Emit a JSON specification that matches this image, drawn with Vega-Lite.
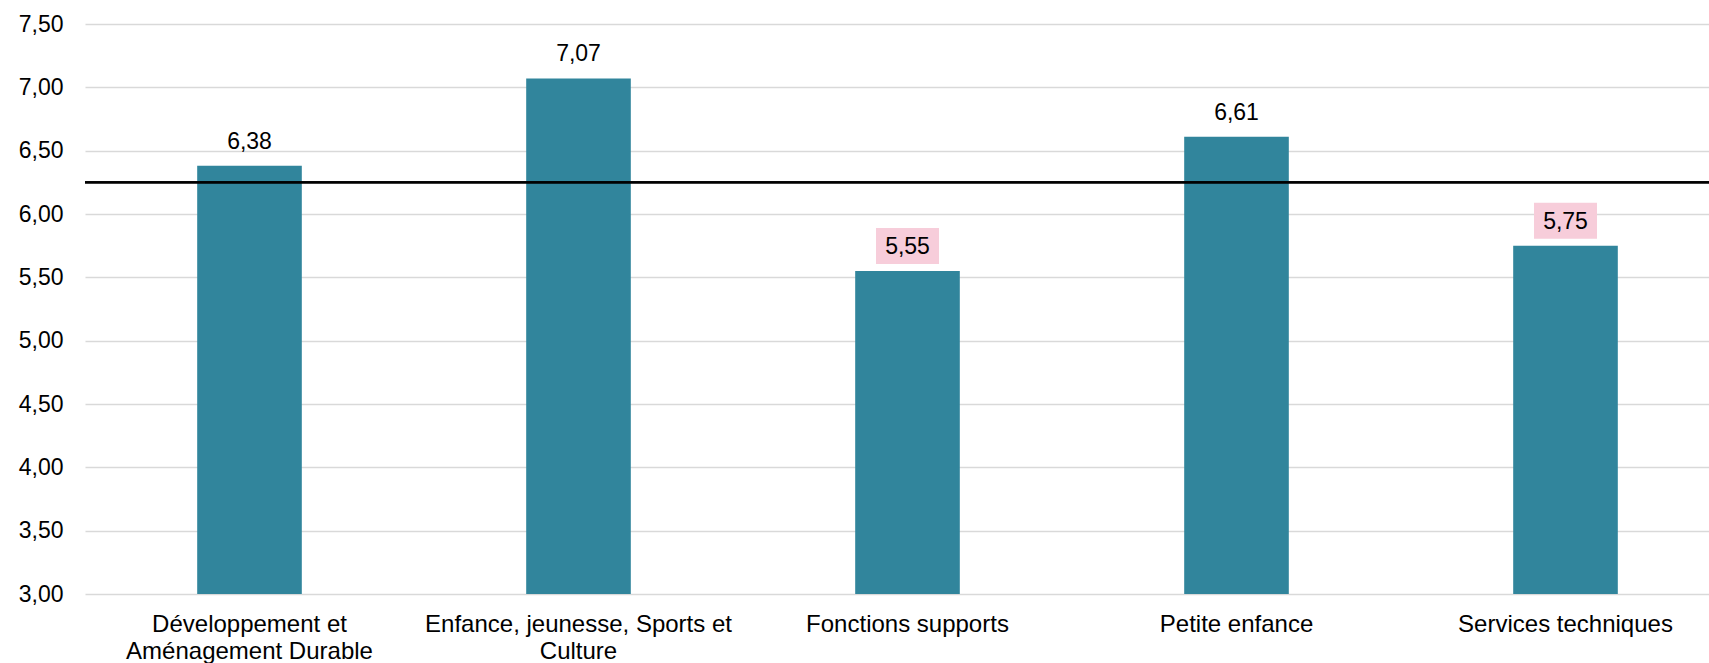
{
  "$schema": "https://vega.github.io/schema/vega-lite/v6.json",
  "autosize": {"type": "none"},
  "width": 1645,
  "height": 570,
  "padding": {"left": 85, "top": 24, "right": 0, "bottom": 69},
  "background": "white",
  "config": {
    "view": {"stroke": null},
    "locale": {"number": {"decimal": ",", "thousands": " ", "grouping": [3], "currency": ["", " €"]}},
    "font": "Liberation Sans"
  },
  "data": {
    "values": [
      {"service": "Développement et Aménagement Durable", "value": 6.38},
      {"service": "Enfance, jeunesse, Sports et Culture", "value": 7.07},
      {"service": "Fonctions supports", "value": 5.55},
      {"service": "Petite enfance", "value": 6.61},
      {"service": "Services techniques", "value": 5.75}
    ]
  },
  "encoding": {
    "x": {
      "field": "service",
      "type": "nominal",
      "sort": null,
      "scale": {"paddingInner": 0.682, "paddingOuter": 0.341},
      "axis": {
        "title": null,
        "labelAngle": 0,
        "domain": false,
        "ticks": false,
        "labelFont": "Liberation Sans",
        "labelFontSize": 24,
        "labelColor": "#000000",
        "labelPadding": 18,
        "labelLineHeight": 27.5,
        "labelLimit": 500,
        "labelExpr": "datum.value == 'Développement et Aménagement Durable' ? ['Développement et', 'Aménagement Durable'] : datum.value == 'Enfance, jeunesse, Sports et Culture' ? ['Enfance, jeunesse, Sports et', 'Culture'] : datum.value"
      }
    }
  },
  "layer": [
    {
      "mark": {"type": "bar", "color": "#31859C", "clip": true},
      "encoding": {
        "y": {
          "field": "value",
          "type": "quantitative",
          "scale": {"domain": [3, 7.5], "nice": false, "zero": false},
          "axis": {
            "title": null,
            "values": [3, 3.5, 4, 4.5, 5, 5.5, 6, 6.5, 7, 7.5],
            "format": ".2f",
            "domain": false,
            "ticks": false,
            "grid": true,
            "gridColor": "#D9D9D9",
            "gridWidth": 1.4,
            "labelFont": "Liberation Sans",
            "labelFontSize": 23,
            "labelColor": "#000000",
            "labelPadding": 22
          }
        }
      }
    },
    {
      "mark": {"type": "rule", "color": "#000000", "strokeWidth": 1.6},
      "encoding": {"y": {"datum": 6.25, "type": "quantitative"}, "x": null}
    },
    {
      "transform": [{"filter": "datum.value < 6.25"}],
      "mark": {"type": "point", "shape": "M-1,-0.571H1V0.571H-1Z", "size": 3969, "filled": true, "color": "#F7CDDA", "opacity": 1, "strokeWidth": 0, "yOffset": -25},
      "encoding": {"y": {"field": "value", "type": "quantitative"}}
    },
    {
      "mark": {"type": "text", "font": "Liberation Sans", "fontSize": 23, "color": "#000000", "baseline": "alphabetic", "dy": -17},
      "encoding": {
        "y": {"field": "value", "type": "quantitative"},
        "text": {"field": "value", "type": "quantitative", "format": ".2f"}
      }
    }
  ]
}
